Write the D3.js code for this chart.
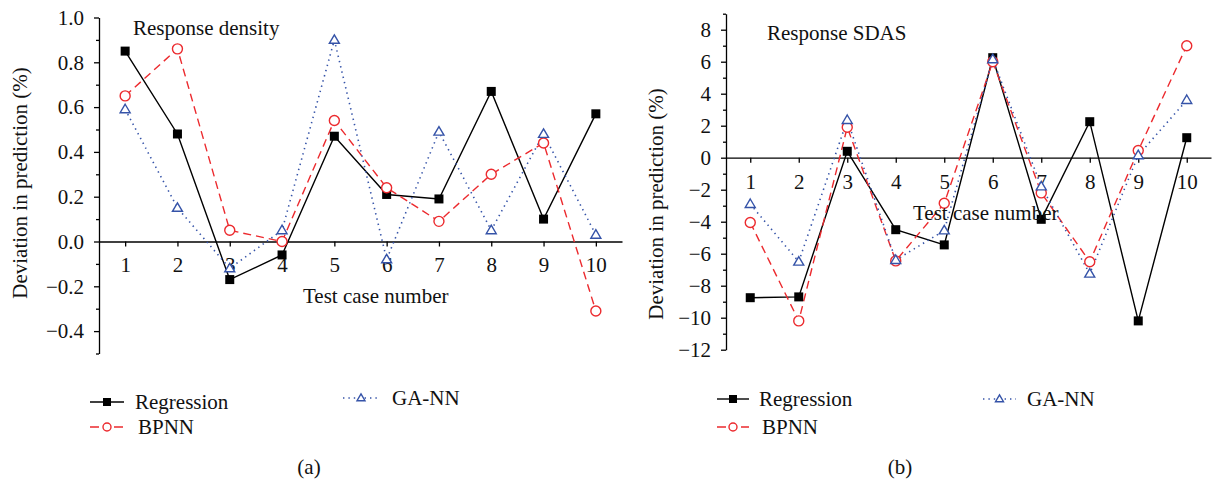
<!DOCTYPE html>
<html>
<head>
<meta charset="utf-8">
<script src="https://cdn.jsdelivr.net/npm/d3@7/dist/d3.min.js"></script>
<style>
  html, body { margin: 0; padding: 0; background: #fff; }
  svg text { font-family: "Liberation Serif", "DejaVu Serif", serif; fill: #111; }
</style>
</head>
<body>
<svg id="fig" width="1212" height="484"></svg>
<script>
// Test cases shared by both panels
const cases = [1, 2, 3, 4, 5, 6, 7, 8, 9, 10];

// Panel (a): response density, deviation in prediction (%)
const densityRegression = [0.85, 0.48, -0.17, -0.06, 0.47, 0.21, 0.19, 0.67, 0.10, 0.57];
const densityBPNN       = [0.65, 0.86, 0.05, 0.00, 0.54, 0.24, 0.09, 0.30, 0.44, -0.31];
const densityGANN       = [0.59, 0.15, -0.12, 0.05, 0.90, -0.08, 0.49, 0.05, 0.48, 0.03];
const densityTicks      = [-0.4, -0.2, 0.0, 0.2, 0.4, 0.6, 0.8, 1.0];
const densityMinorTicks = [-0.5, -0.3, -0.1, 0.1, 0.3, 0.5, 0.7, 0.9];

// Panel (b): response SDAS, deviation in prediction (%)
const sdasRegression = [-8.75, -8.7, 0.4, -4.5, -5.45, 6.25, -3.85, 2.25, -10.2, 1.25];
const sdasBPNN       = [-4.05, -10.2, 1.9, -6.45, -2.85, 6.0, -2.2, -6.5, 0.45, 7.0];
const sdasGANN       = [-2.9, -6.5, 2.35, -6.4, -4.55, 6.15, -1.8, -7.25, 0.15, 3.6];
const sdasTicks      = [-12, -10, -8, -6, -4, -2, 0, 2, 4, 6, 8];
const sdasMinorTicks = [-11, -9, -7, -5, -3, -1, 1, 3, 5, 7, 9];

const seriesNames = ["Regression", "BPNN", "GA-NN"];

const RED = "#ec2a2e";
const BLUE = "#3553a8";
const styles = {
  "Regression": { color: "#000", dash: null, width: 1.4, marker: "square" },
  "BPNN":       { color: RED, dash: "8,5", width: 1.4, marker: "circle" },
  "GA-NN":      { color: BLUE, dash: "1.4,4", width: 1.6, marker: "triangle" }
};

const svg = d3.select("#fig");
const FONT = 21;

function drawMarker(g, type, cx, cy, size, color) {
  if (type === "square") {
    g.append("rect")
      .attr("x", cx - size / 2).attr("y", cy - size / 2)
      .attr("width", size).attr("height", size)
      .attr("fill", "#000");
  } else if (type === "circle") {
    g.append("circle")
      .attr("cx", cx).attr("cy", cy).attr("r", size / 2)
      .attr("fill", "#fff").attr("stroke", color).attr("stroke-width", 1.4);
  } else {
    const h = size * 0.85, w = size;
    g.append("path")
      .attr("d", `M${cx},${cy - h * 0.6}L${cx + w / 2},${cy + h * 0.4}L${cx - w / 2},${cy + h * 0.4}Z`)
      .attr("fill", "#fff").attr("stroke", color).attr("stroke-width", 1.4);
  }
}

function panel(cfg) {
  const x = d3.scaleLinear().domain([0.5, 10.5]).range(cfg.xRange);
  const y = d3.scaleLinear().domain(cfg.yDomain).range(cfg.yRange);
  const g = svg.append("g");

  // Vertical axis with major labelled ticks and minor ticks
  const yAxis = g.append("g")
    .attr("transform", `translate(${cfg.xRange[0]},0)`)
    .call(d3.axisLeft(y).tickValues(cfg.ticks).tickSize(5).tickSizeOuter(0)
      .tickPadding(10).tickFormat(cfg.tickFormat));
  yAxis.selectAll("text").style("font-size", FONT + "px")
    .attr("font-family", "Liberation Serif");
  g.append("g")
    .attr("transform", `translate(${cfg.xRange[0]},0)`)
    .call(d3.axisLeft(y).tickValues(cfg.minorTicks).tickSize(3).tickFormat(""))
    .call(a => a.select(".domain").remove());

  // Horizontal axis running along zero
  const xAxis = g.append("g")
    .attr("transform", `translate(0,${y(0)})`)
    .call(d3.axisBottom(x).tickValues(cases).tickSize(5).tickSizeOuter(0)
      .tickPadding(11).tickFormat(d3.format("d")));
  xAxis.selectAll("text").style("font-size", FONT + "px");
  g.selectAll(".domain, .tick line").attr("stroke", "#000").attr("stroke-width", 1.3);

  // Series lines then markers
  const line = d3.line().x((d, i) => x(cases[i])).y(d => y(d));
  cfg.series.forEach((vals, k) => {
    const st = styles[seriesNames[k]];
    g.append("path").datum(vals)
      .attr("d", line).attr("fill", "none")
      .attr("stroke", st.color).attr("stroke-width", st.width)
      .attr("stroke-dasharray", st.dash);
  });
  cfg.series.forEach((vals, k) => {
    const st = styles[seriesNames[k]];
    const mg = g.append("g");
    vals.forEach((v, i) => drawMarker(mg, st.marker, x(cases[i]), y(v), st.marker === "square" ? 9 : 10, st.color));
  });

  // Texts
  g.append("text").attr("x", cfg.title[0]).attr("y", cfg.title[1])
    .style("font-size", FONT + "px").text(cfg.titleText);
  g.append("text").attr("x", cfg.xLabel[0]).attr("y", cfg.xLabel[1])
    .style("font-size", FONT + "px").text("Test case number");
  g.append("text")
    .attr("transform", `translate(${cfg.yLabel[0]},${cfg.yLabel[1]}) rotate(-90)`)
    .attr("text-anchor", "middle").attr("dy", "0.35em")
    .style("font-size", FONT + "px").text("Deviation in prediction (%)");
  g.append("text").attr("x", cfg.caption[0]).attr("y", cfg.caption[1])
    .attr("text-anchor", "middle").attr("dy", "0.35em")
    .style("font-size", FONT + "px").text(cfg.captionText);

  // Legend
  cfg.legend.forEach((p, k) => {
    const st = styles[seriesNames[k]];
    const lg = g.append("g");
    lg.append("line").attr("x1", p.x1).attr("x2", p.x2).attr("y1", p.y).attr("y2", p.y)
      .attr("stroke", st.color).attr("stroke-width", st.width)
      .attr("stroke-dasharray", st.marker === "circle" ? "9,15,9" : st.dash);
    drawMarker(lg, st.marker, (p.x1 + p.x2) / 2, p.y, 8, st.color);
    lg.append("text").attr("x", p.tx).attr("y", p.y).attr("dy", "0.35em")
      .style("font-size", FONT + "px").text(seriesNames[k]);
  });
}

panel({
  xRange: [99, 622], yDomain: [-0.5, 1.0], yRange: [353.5, 17.5],
  ticks: densityTicks, minorTicks: densityMinorTicks, tickFormat: d3.format(".1f"),
  series: [densityRegression, densityBPNN, densityGANN],
  title: [133, 35], titleText: "Response density",
  xLabel: [303, 303], yLabel: [20, 183],
  caption: [309, 467], captionText: "(a)",
  legend: [
    { x1: 90, x2: 124, y: 402, tx: 135 },
    { x1: 90, x2: 124, y: 427, tx: 138 },
    { x1: 343, x2: 379, y: 398, tx: 392 }
  ]
});

panel({
  xRange: [726, 1211], yDomain: [-12, 9], yRange: [349.7, 13.7],
  ticks: sdasTicks, minorTicks: sdasMinorTicks, tickFormat: d3.format("d"),
  series: [sdasRegression, sdasBPNN, sdasGANN],
  title: [767, 40], titleText: "Response SDAS",
  xLabel: [913, 220], yLabel: [656, 204],
  caption: [900, 467], captionText: "(b)",
  legend: [
    { x1: 717, x2: 749, y: 399, tx: 759 },
    { x1: 717, x2: 749, y: 427, tx: 762 },
    { x1: 983, x2: 1016, y: 399, tx: 1027 }
  ]
});
</script>
</body>
</html>
